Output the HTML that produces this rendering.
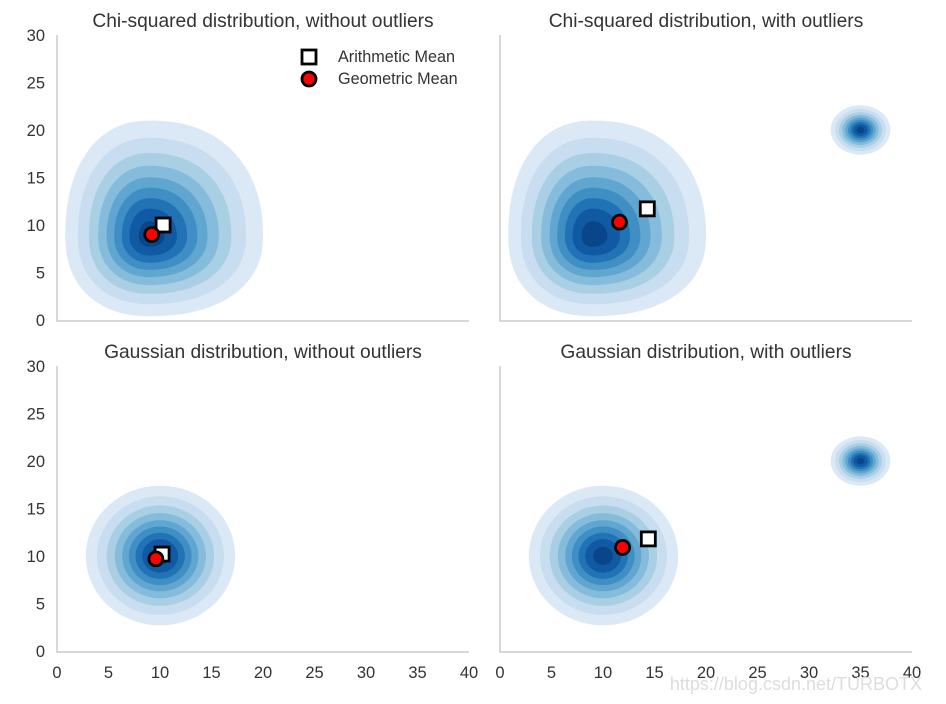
<!DOCTYPE html>
<html><head><meta charset="utf-8"><style>
body{margin:0;background:#fff;font-family:"Liberation Sans",sans-serif}
svg text{font-family:"Liberation Sans",sans-serif;fill:#333}
</style></head><body>
<svg id="c" width="946" height="699"></svg>
<script>
const xTicks=[0,5,10,15,20,25,30,35,40];
const yTicks=[0,5,10,15,20,25,30];
const titles=["Chi-squared distribution, without outliers","Chi-squared distribution, with outliers","Gaussian distribution, without outliers","Gaussian distribution, with outliers"];
// blob: [cx, cy, left, right, up, down, exponent] in data units
const chiBlob=[9,8.8,8.2,11,12.2,8.4,2.25];
const gaussBlob=[10,10,7.2,7.3,7.4,7.3,2];
const outlierBlob=[35,20,2.9,2.9,2.6,2.6,2];
const levels=[1,.85,.72,.61,.51,.42,.33,.24,.13];
const colors=["#dbe9f6","#c8ddf0","#a9cfe5","#85bcdc","#60a6d1","#3f8fc5","#2272b6","#0f5aa3","#084589"];
const arith=[[10.3,10],[14.3,11.7],[10.2,10.2],[14.4,11.8]];
const geom=[[9.2,9],[11.6,10.3],[9.6,9.7],[11.9,10.9]];
const panels=[{x0:57,x1:469,y0:320,y1:35,blobs:[chiBlob],xl:false,yl:true},
{x0:500,x1:912,y0:320,y1:35,blobs:[chiBlob,outlierBlob],xl:false,yl:false},
{x0:57,x1:469,y0:651,y1:366,blobs:[gaussBlob],xl:true,yl:true},
{x0:500,x1:912,y0:651,y1:366,blobs:[gaussBlob,outlierBlob],xl:true,yl:false}];
const NS="http://www.w3.org/2000/svg",svg=document.getElementById('c');
function mk(t,a,p){const e=document.createElementNS(NS,t);for(const k in a)e.setAttribute(k,a[k]);(p||svg).appendChild(e);return e;}
panels.forEach((P,i)=>{
 const g=mk('g',{});
 
 
 const sx=v=>P.x0+(P.x1-P.x0)*v/40, sy=v=>P.y0+(P.y1-P.y0)*v/30;
 const kx=(P.x1-P.x0)/40, ky=(P.y0-P.y1)/30;
 P.blobs.forEach(b=>{
  levels.forEach((s,li)=>{
   const e=2/(b[6]+(1-s)*(2-b[6])*0.7);
   let d='';
   for(let k=0;k<=90;k++){const t=k/90*2*Math.PI,c=Math.cos(t),sn=Math.sin(t);
    const cc=Math.sign(c)*Math.pow(Math.abs(c),e), ss=Math.sign(sn)*Math.pow(Math.abs(sn),e);
    const rx=(c>0?b[3]:b[2])*s, ry=(sn>0?b[4]:b[5])*s;
    const px=sx(b[0])+cc*rx*kx, py=sy(b[1])-ss*ry*ky;
    d+=(k?'L':'M')+px.toFixed(1)+','+py.toFixed(1);}
   const p=mk('path',{d:d+'Z',fill:colors[li]},g);
   
   
  });
 });
 const ax=mk('path',{d:`M${P.x0},${P.y1}V${P.y0+1}H${P.x1}`,fill:'none',stroke:'#ccc','stroke-width':1.5},g);
 
 
 if(P.yl) yTicks.forEach(v=>{const t=mk('text',{x:P.x0-12,y:sy(v)+6,'text-anchor':'end','font-size':16.5},g);t.textContent=v;
  });
 if(P.xl) xTicks.forEach(v=>{const t=mk('text',{x:sx(v),y:P.y0+27,'text-anchor':'middle','font-size':16.5},g);t.textContent=v;
  });
 const tt=mk('text',{x:(P.x0+P.x1)/2,y:P.y1-8,'text-anchor':'middle','font-size':19.2},g);tt.textContent=titles[i];
 
 const a=arith[i];
 const r=mk('rect',{x:sx(a[0])-7,y:sy(a[1])-7,width:14,height:14,fill:'#fff',stroke:'#000','stroke-width':2.8},g);
 
 const m=geom[i];
 const c=mk('circle',{cx:sx(m[0]),cy:sy(m[1]),r:7,fill:'#f00',stroke:'#000','stroke-width':2.8},g);
 
});
const lg=mk('g',{});


mk('rect',{x:302,y:50,width:14,height:14,fill:'#fff',stroke:'#000','stroke-width':2.8},lg);
mk('circle',{cx:309,cy:79,r:7,fill:'#f00',stroke:'#000','stroke-width':2.8},lg);
const l1=mk('text',{x:338,y:62,'font-size':16.2},lg);l1.textContent='Arithmetic Mean';

const l2=mk('text',{x:338,y:84,'font-size':16.2},lg);l2.textContent='Geometric Mean';

const wm=mk('text',{x:922,y:690,'text-anchor':'end','font-size':18,style:'fill:#ddd'});wm.textContent='https://blog.csdn.net/TURBOTX';

</script>
</body></html>
